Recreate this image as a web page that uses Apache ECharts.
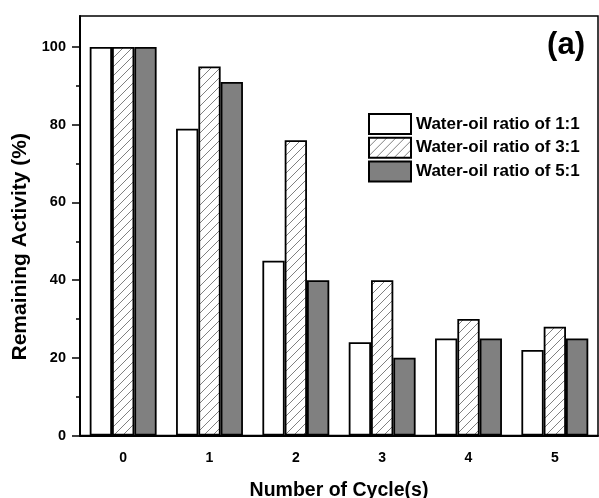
<!DOCTYPE html>
<html><head><meta charset="utf-8">
<script src="https://cdn.jsdelivr.net/npm/echarts@6/dist/echarts.min.js"></script>
<style>html,body{margin:0;padding:0;background:#fff}#c{width:599px;height:498px}</style>
</head><body><div id="c"></div>
<script>
var categories = ['0', '1', '2', '3', '4', '5'];
var seriesNames = ['Water-oil ratio of 1:1', 'Water-oil ratio of 3:1', 'Water-oil ratio of 5:1'];
var ratio11 = [100, 79, 45, 24, 25, 22];
var ratio31 = [100, 95, 76, 40, 30, 28];
var ratio51 = [100, 91, 40, 20, 25, 25];
var majorTicks = [0, 20, 40, 60, 80, 100];
var minorTicks = [0, 10, 20, 30, 40, 50, 60, 70, 80, 90, 100];

var FONT = 'Liberation Sans, Arial, sans-serif';

function hatch() {
  var s = 9;
  var cv = document.createElement('canvas');
  cv.width = s; cv.height = s;
  var g = cv.getContext('2d');
  g.fillStyle = '#fff'; g.fillRect(0, 0, s, s);
  g.strokeStyle = '#808080'; g.lineWidth = 1;
  g.beginPath();
  g.moveTo(0, s); g.lineTo(s, 0);
  g.moveTo(-2, 2); g.lineTo(2, -2);
  g.moveTo(s - 2, s + 2); g.lineTo(s + 2, s - 2);
  g.stroke();
  return { image: cv, repeat: 'repeat' };
}

var chart = echarts.init(document.getElementById('c'), null, { renderer: 'canvas' });
var fills = ['#ffffff', hatch(), '#808080'];
var datas = [ratio11, ratio31, ratio51];

chart.setOption({
  animation: false,
  backgroundColor: '#fff',
  title: {
    text: '(a)', right: 9, top: 25,
    textStyle: { fontFamily: FONT, fontSize: 31, fontWeight: 'bold', color: '#000' }
  },
  legend: {
    orient: 'vertical', left: 368, top: 113, padding: 0,
    itemWidth: 42, itemHeight: 20, itemGap: 1.7,
    icon: 'rect',
    data: seriesNames,
    textStyle: { fontFamily: FONT, fontSize: 17, fontWeight: 'bold', color: '#000' }
  },
  grid: {
    left: 80, right: 1, top: 16, bottom: 62.5,
    outerBoundsMode: 'none', containLabel: false,
    show: true, borderColor: '#000', borderWidth: 1.5, backgroundColor: 'transparent'
  },
  xAxis: {
    type: 'category', data: categories,
    name: 'Number of Cycle(s)', nameLocation: 'middle', nameGap: 45,
    nameTextStyle: { fontFamily: FONT, fontSize: 19.5, fontWeight: 'bold', color: '#000' },
    axisLine: { lineStyle: { color: '#000', width: 2 } },
    axisTick: { alignWithLabel: true, length: 7, lineStyle: { color: '#000', width: 1.5 } },
    axisLabel: { margin: 16, fontFamily: FONT, fontSize: 14, fontWeight: 'bold', color: '#000' },
    splitLine: { show: false }
  },
  yAxis: [{
    type: 'value', min: 0, max: 108, interval: 20, position: 'left',
    name: 'Remaining Activity (%)', nameLocation: 'middle', nameGap: 40,
    nameTextStyle: { fontFamily: FONT, fontSize: 21, fontWeight: 'bold', color: '#000', padding: [0, 42, 0, 0] },
    axisLine: { show: true, lineStyle: { color: '#000', width: 2 } },
    axisTick: { show: true, length: 8, customValues: majorTicks, lineStyle: { color: '#000', width: 1.5 } },
    axisLabel: { margin: 14, customValues: majorTicks, fontFamily: FONT, fontSize: 14.5, fontWeight: 'bold', color: '#000' },
    splitLine: { show: false }
  }, {
    type: 'value', min: 0, max: 108, interval: 10, position: 'left',
    axisLine: { show: false },
    axisTick: { show: true, length: 4, customValues: minorTicks, lineStyle: { color: '#000', width: 1.5 } },
    axisLabel: { show: false },
    splitLine: { show: false }
  }],
  series: seriesNames.map(function (n, i) {
    return {
      name: n, type: 'bar', data: datas[i], yAxisIndex: 0,
      barWidth: 22.3, barGap: '0%',
      itemStyle: { color: fills[i], borderColor: '#000', borderWidth: 1.8 }
    };
  })
});
</script></body></html>
